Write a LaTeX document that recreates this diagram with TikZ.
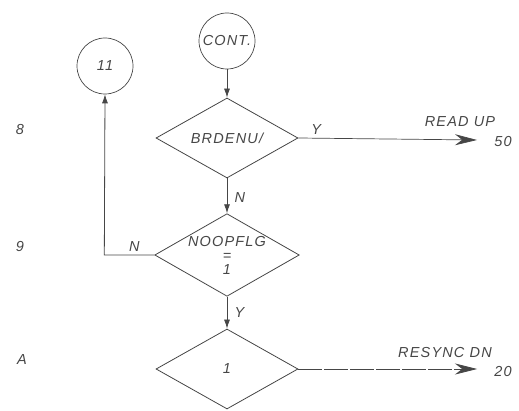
\documentclass[tikz,border=0pt]{standalone}
\usepackage{fontspec}
\setmainfont{Liberation Sans}[LetterSpace=8]
\usepackage{xcolor}
\usepackage{tikz}
\usetikzlibrary{
    arrows.meta,
    positioning,
    shapes.geometric
}

\definecolor{pencil}{RGB}{70,70,70}

\begin{document}
\begin{tikzpicture}[
x=1pt, y=-1pt,
every node/.style={text=pencil, font=\fontsize{14.5}{13}\selectfont\itshape},
conn/.style={
draw=pencil,
circle,
minimum size=56pt,
inner sep=0pt,
line width=0.7pt
},
test/.style={
draw=pencil,
diamond,
aspect=1.75,
minimum width=142pt,
minimum height=80pt,
inner sep=0pt,
align=center,
line width=0.8pt
},
flow/.style={-{Latex[length=9pt,width=6pt]}, draw=pencil, line width=0.8pt},
exit/.style={-{Stealth[length=22pt,width=11pt]}, draw=pencil, line width=0.7pt}
]
\useasboundingbox (0,0) rectangle (519,411);

\node[conn] (cont) at (227,41) {CONT.};

\node[conn] (sub11) at (105,66) {11};

\node[test] (brdenu) at (227,138) {BRDENU/};

\node[test] (noopflg) at (227,255)
{NOOPFLG\\[1pt]=\\[1pt]1};

\node[test] (one) at (227,369) {1};

% row marks at the left margin
\node (row8) at (20,130) {8};
\node (row9) at (20,247) {9};
\node (rowA) at (22,360) {A};

% exits to other pages
\coordinate (readup) at (477,140);
\coordinate (resync) at (477,369);
\node (readuptxt) at (460,122) {READ UP};
\node (fifty) at (503,142) {50};
\node (resynctxt) at (445,353) {RESYNC DN};
\node (twenty) at (503,372) {20};

\draw[flow]
(cont) -- (brdenu);

\draw[flow]
(brdenu) -- node[right,xshift=4pt,yshift=-2pt] {N}
(noopflg);

\draw[flow]
(noopflg) -- node[right,xshift=4pt] {Y}
(one);

\draw[flow]
(noopflg.west) -- node[above,pos=0.4] {N}
++(-50,0) -- (sub11.south);

\draw[exit]
(brdenu.east) -- node[above,pos=0.1] {Y}
(readup);

\draw[exit, dash pattern=on 24pt off 2pt]
(one.east) -- (resync);

\end{tikzpicture}
\end{document}
